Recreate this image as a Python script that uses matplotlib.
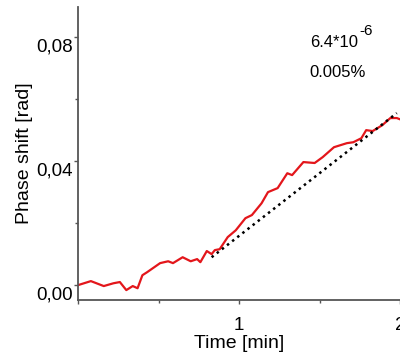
import matplotlib.pyplot as plt
import matplotlib.transforms as mtransforms
from matplotlib.ticker import FuncFormatter, MultipleLocator

plt.rcParams['font.family'] = ['Liberation Sans', 'DejaVu Sans']

# measured phase shift trace (time in min, phase in rad)
time_min = [0.00, 0.08, 0.16, 0.22, 0.26, 0.30, 0.34, 0.37, 0.40, 0.43,
            0.51, 0.56, 0.59, 0.65, 0.70, 0.74, 0.76, 0.80, 0.83, 0.85,
            0.88, 0.93, 0.98, 1.04, 1.08, 1.14, 1.18, 1.24, 1.30, 1.33,
            1.40, 1.47, 1.52, 1.59, 1.67, 1.71, 1.76, 1.79, 1.83, 1.89,
            1.94, 1.98, 2.00]
phase_rad = [0.0000, 0.0013, -0.0003, 0.0006, 0.0010, -0.0016, -0.0003, -0.0010, 0.0032, 0.0042,
             0.0071, 0.0077, 0.0071, 0.0090, 0.0077, 0.0084, 0.0074, 0.0110, 0.0100, 0.0113,
             0.0116, 0.0155, 0.0177, 0.0216, 0.0226, 0.0264, 0.0300, 0.0313, 0.0361, 0.0355,
             0.0397, 0.0394, 0.0413, 0.0445, 0.0458, 0.0461, 0.0474, 0.0500, 0.0497, 0.0516,
             0.0539, 0.0539, 0.0535]

# linear fit segment
fit_time = [0.83, 1.98]
fit_phase = [0.0090, 0.0555]

fig = plt.figure(figsize=(4.0, 3.54), dpi=100)
ax = fig.add_axes([0.195, 0.1525, 0.805, 0.8275])

ax.plot(time_min, phase_rad, color='#e3161b', lw=1.6, zorder=2)
ax.plot(fit_time, fit_phase, color='black', lw=1.8, linestyle=(0, (1, 1.6)), zorder=3)

ax.set_xlim(0, 2.0)
ax.set_ylim(-0.0048, 0.0897)

ax.xaxis.set_major_locator(MultipleLocator(1))
ax.xaxis.set_minor_locator(MultipleLocator(0.5))
ax.yaxis.set_major_locator(MultipleLocator(0.04))
ax.yaxis.set_minor_locator(MultipleLocator(0.02))
ax.xaxis.set_major_formatter(FuncFormatter(lambda v, p: '' if v == 0 else f'{v:g}'))
ax.yaxis.set_major_formatter(FuncFormatter(lambda v, p: f'{v:.2f}'.replace('.', ',')))

for s in ['top', 'right']:
    ax.spines[s].set_visible(False)
for s in ['left', 'bottom']:
    ax.spines[s].set_color('#555555')
    ax.spines[s].set_linewidth(1.3)

ax.tick_params(which='both', direction='out', color='#555555', width=1, labelsize=13.5, pad=1)
ax.tick_params(which='major', length=3)
ax.tick_params(which='minor', length=2)
ax.tick_params(axis='x', pad=9)

# y tick labels sit just below their ticks in the original
shift = mtransforms.ScaledTranslation(0, -8 / 100, fig.dpi_scale_trans)
for lab in ax.get_yticklabels():
    lab.set_transform(lab.get_transform() + shift)

ax.set_xlabel('Time [min]', fontsize=14, labelpad=1)
ax.set_ylabel('Phase shift [rad]', fontsize=14, labelpad=2)

ax.text(1.44, 0.0784, '6.4*10', fontsize=12, va='center')
ax.text(1.745, 0.0821, '-6', fontsize=11, va='center')
ax.text(1.44, 0.0687, '0.005%', fontsize=12, va='center')

fig.savefig('out.png', dpi=100)
